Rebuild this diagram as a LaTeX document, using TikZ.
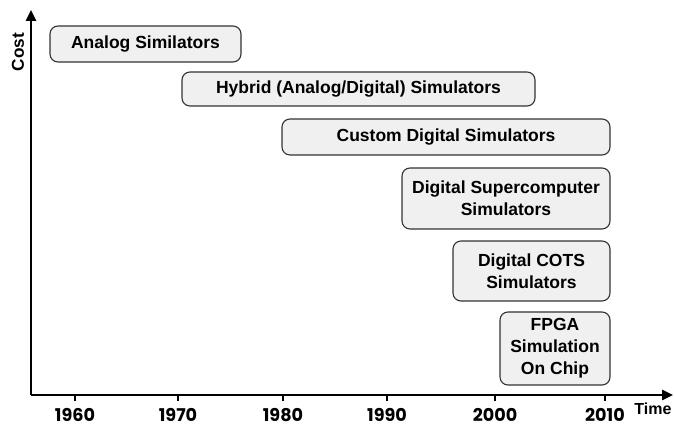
\documentclass[tikz,border=0pt]{standalone}
\usepackage{fontspec}
\setmainfont{Liberation Sans}
\newfontfamily\yearfont{Poppins}
\usepackage{tikz}
\usetikzlibrary{arrows.meta,positioning}
\usepackage{xcolor}
\definecolor{boxline}{HTML}{333333}
\definecolor{boxfill}{HTML}{F0F0F0}
\tikzset{
  era/.style={draw=boxline,fill=boxfill,rounded corners=4pt,align=center,
    inner sep=0pt,line width=0.55pt,font=\fontsize{8.75}{11}\selectfont\bfseries},
  axis/.style={-{Triangle[length=5.5pt,width=5pt]},line width=1.2pt},
  tickmark/.style={line width=0.65pt},
  yearlabel/.style={font=\yearfont\fontsize{8.8}{10}\selectfont\bfseries},
  axislabel/.style={font=\fontsize{8}{9}\selectfont\bfseries,inner sep=0pt}
}
\begin{document}
\begin{tikzpicture}[x=0.5pt,y=-0.5pt]
  \useasboundingbox (0,0) rectangle (674,426);
  % axes
  \coordinate (origin) at (31,395);
  \coordinate (ytip) at (31,10);
  \coordinate (xtip) at (673,395);
  \draw[axis] (origin) -- (ytip);
  \draw[axis] (origin) -- (xtip);
  \node[axislabel,font=\fontsize{8.6}{9}\selectfont\bfseries,rotate=90] (cost) at (18,52) {Cost};
  \node[axislabel] (time) at (653,409) {Time};
  % years
  \foreach \x/\yr in {75/1960,178/1970,283/1980,387/1990,495/2000,605/2010}{
    \coordinate (t\yr) at (\x,395);
    \draw[tickmark] (t\yr) -- ++(0,6);
    \node[yearlabel] (y\yr) at (\x,415) {\yr};
  }
  % simulator eras
  \node[era,minimum width=95.5pt,minimum height=18pt] (analog) at (145.5,44) {Analog Similators};
  \node[era,minimum width=176.5pt,minimum height=17pt] (hybrid) at (358.5,89) {Hybrid (Analog/Digital) Simulators};
  \node[era,minimum width=164pt,minimum height=18pt] (custom) at (446,137) {Custom Digital Simulators};
  \node[era,minimum width=104pt,minimum height=30.5pt] (supercomp) at (506,198.5) {Digital Supercomputer\\Simulators};
  \node[era,minimum width=78.5pt,minimum height=30pt] (cots) at (531.5,271) {Digital COTS\\Simulators};
  \node[era,minimum width=55pt,minimum height=36.5pt] (fpga) at (555,348.5) {FPGA\\Simulation\\On Chip};
\end{tikzpicture}
\end{document}
